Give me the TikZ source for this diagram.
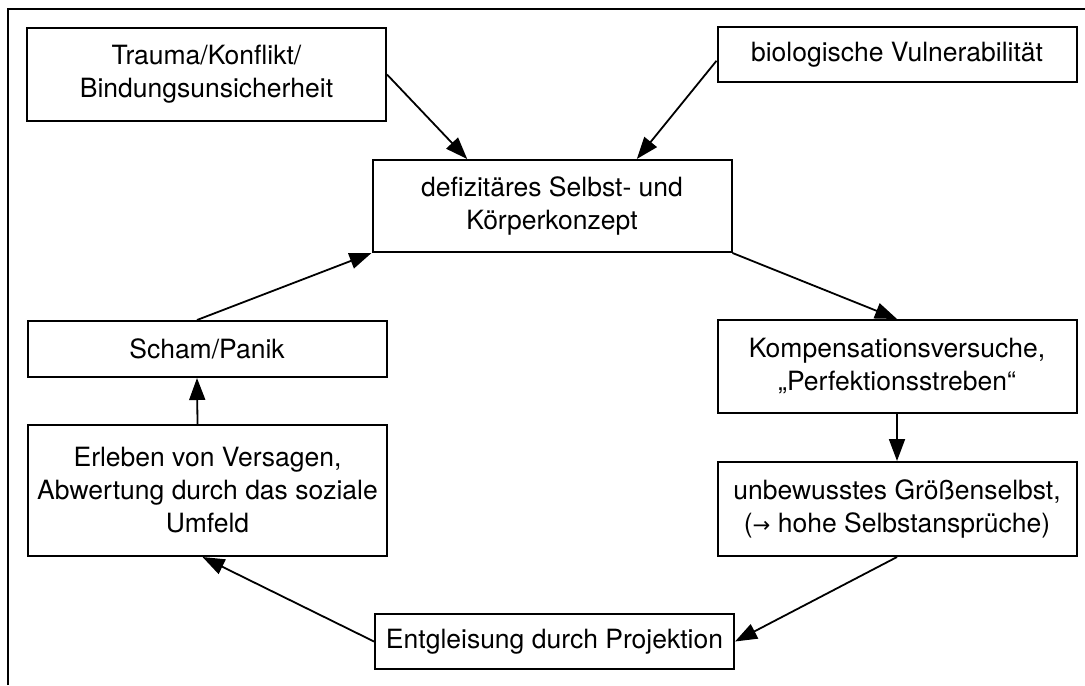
\documentclass[tikz,border=0pt]{standalone}
\usepackage{fontspec}
\setmainfont{TeX Gyre Heros}
\newfontfamily\arrowfont[Scale=0.8]{DejaVu Sans}
\usetikzlibrary{arrows.meta}

\begin{document}
\begin{tikzpicture}[x=0.5pt, y=-0.5pt,
    box/.style={draw, line width=1pt, align=center, inner sep=0pt,
      minimum width=179.5pt, font=\fontsize{13.25}{16.5}\selectfont},
    arr/.style={-{Triangle[length=11pt,width=8pt]}, line width=0.9pt}]

    \useasboundingbox (0,0) rectangle (1085,685);
    \draw [line width=1pt] (8,685) -- (8,9) -- (1085,9);

    \node[box, minimum height=46.5pt] (trauma) at (206.5, 74.5) {Trauma/Konflikt/\\Bindungsunsicherheit};
    \node[box, minimum height=27.5pt] (bio) at (897, 54.5) {biologische Vulnerabilität};
    \node[box, minimum height=46pt] (defizit) at (552, 206) {defizitäres Selbst- und\\Körperkonzept};
    \node[box, minimum height=28pt] (scham) at (207, 349) {Scham/Panik};
    \node[box, minimum height=65.5pt] (erleben) at (207.5, 490.5) {Erleben von Versagen,\\Abwertung durch das soziale\\Umfeld};
    \node[box, minimum height=46.5pt] (komp) at (897, 366.5) {Kompensationsversuche,\\„Perfektionsstreben“};
    \node[box, minimum height=47pt] (unbew) at (897, 509) {unbewusstes Größenselbst,\\({\arrowfont →} hohe Selbstansprüche)};
    \node[box, minimum height=27.5pt] (entgl) at (554.5, 641.5) {Entgleisung durch Projektion};

    \draw [arr] (trauma.east) to (defizit.151);
    \draw [arr] (bio.182) to (defizit.29);
    \draw [arr] (defizit.south east) to (komp.north);
    \draw [arr] (komp.south) to (unbew.north);
    \draw [arr] (unbew.south) to (entgl.east);
    \draw [arr] (entgl.west) to ([xshift=-2.5pt]erleben.south);
    \draw [arr] ([xshift=-5pt]erleben.north) to ([xshift=-5pt]scham.south);
    \draw [arr] ([xshift=-5pt]scham.north) to (defizit.south west);

\end{tikzpicture}
\end{document}
